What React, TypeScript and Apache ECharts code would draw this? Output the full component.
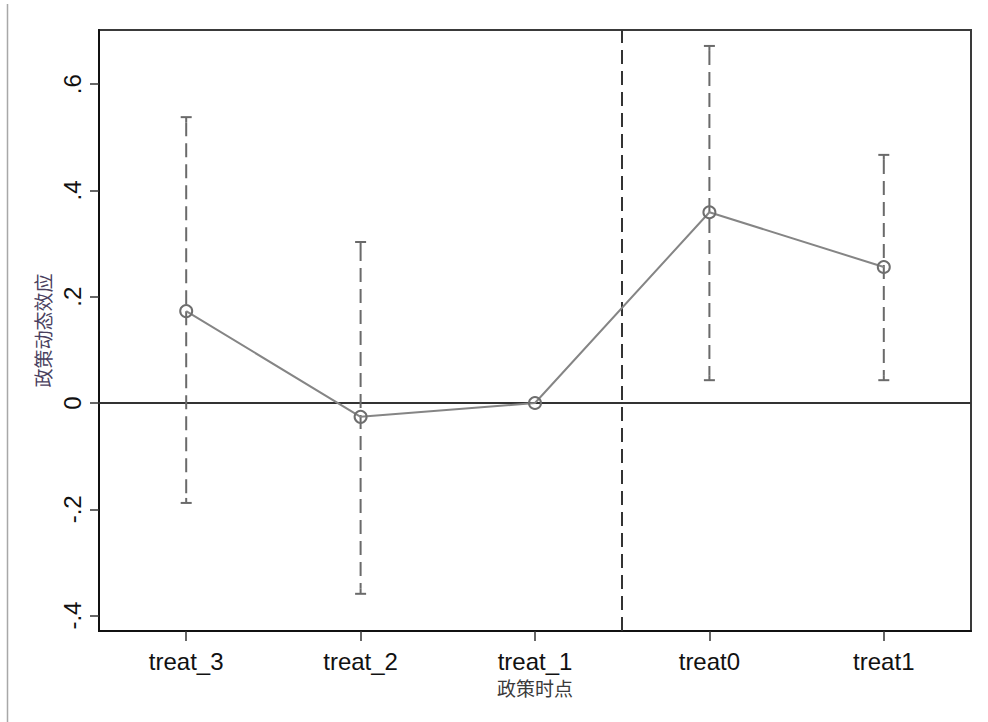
import React, { useEffect, useRef } from "react";
import * as echarts from "echarts";

const categories = ["treat_3", "treat_2", "treat_1", "treat0", "treat1"];
const coef = [0.173, -0.026, 0, 0.359, 0.256];
const lower = [-0.188, -0.359, 0, 0.043, 0.043];
const upper = [0.538, 0.303, 0, 0.672, 0.467];
const yTicks = [-0.4, -0.2, 0, 0.2, 0.4, 0.6];
const xTicks = [0, 1, 2, 3, 4];
const policyLine = 2.5;

const fmtY = (v: number) => {
  if (Math.abs(v) < 1e-9) return "0";
  const s = String(Math.round(v * 10) / 10);
  return s.replace("0.", ".");
};

export default function App() {
  const ref = useRef<HTMLDivElement>(null);
  useEffect(() => {
    document.body.style.margin = "0";
    const chart = echarts.init(ref.current!, undefined, { renderer: "svg" });
    const latin = "'Liberation Sans', Arial, sans-serif";
    const cjk = "'Noto Sans CJK SC', 'Noto Sans', sans-serif";
    const ciData = categories.map((_, i) => [i, lower[i], upper[i]]);
    chart.setOption({
      animation: false,
      backgroundColor: "#ffffff",
      graphic: [
        {
          type: "line",
          shape: { x1: 7.5, y1: 4, x2: 7.5, y2: 722 },
          style: { stroke: "#a8a8a8", lineWidth: 1.5 },
          silent: true,
        },
      ],
      grid: {
        left: 99,
        right: 17,
        top: 30,
        bottom: 91,
        show: true,
        borderColor: "#3a3a3a",
        borderWidth: 2,
        backgroundColor: "#ffffff",
      },
      xAxis: {
        type: "value",
        min: -0.5,
        max: 4.5,
        name: "政策时点",
        nameLocation: "middle",
        nameGap: 46,
        nameTextStyle: { fontFamily: cjk, fontSize: 19, color: "#3a3a3a" },
        splitLine: { show: false },
        axisLine: { show: true, onZero: false, lineStyle: { color: "#111", width: 2 } },
        axisTick: {
          show: true,
          length: 10,
          customValues: xTicks,
          lineStyle: { color: "#333", width: 1.5 },
        },
        axisLabel: {
          customValues: xTicks,
          formatter: (v: number) => categories[Math.round(v)] ?? "",
          fontFamily: latin,
          fontSize: 24,
          color: "#111",
          margin: 18,
        },
      },
      yAxis: {
        type: "value",
        min: -0.429,
        max: 0.702,
        name: "政策动态效应",
        nameLocation: "middle",
        nameGap: 39,
        nameTextStyle: { fontFamily: cjk, fontSize: 19, color: "#4a3f5e" },
        splitLine: { show: false },
        axisLine: { show: true, onZero: false, lineStyle: { color: "#111", width: 2 } },
        axisTick: {
          show: true,
          length: 9,
          customValues: yTicks,
          lineStyle: { color: "#333", width: 1.5 },
        },
        axisLabel: {
          customValues: yTicks,
          formatter: fmtY,
          rotate: 90,
          fontFamily: latin,
          fontSize: 24,
          color: "#111",
          margin: 15,
        },
      },
      series: [
        {
          type: "custom",
          name: "ci",
          data: ciData,
          z: 3,
          renderItem: (params: any, api: any) => {
            const x = api.value(0);
            const lo = api.value(1);
            const hi = api.value(2);
            if (Math.abs(hi - lo) < 1e-9) return { type: "group", children: [] };
            const pLo = api.coord([x, lo]);
            const pHi = api.coord([x, hi]);
            const cap = 5.5;
            const col = "#6a6a6a";
            return {
              type: "group",
              children: [
                {
                  type: "line",
                  shape: { x1: pHi[0], y1: pHi[1] + 5, x2: pLo[0], y2: pLo[1] - 5 },
                  style: { stroke: col, lineWidth: 2, lineDash: [14, 7] },
                },
                {
                  type: "line",
                  shape: { x1: pHi[0] - cap, y1: pHi[1], x2: pHi[0] + cap, y2: pHi[1] },
                  style: { stroke: col, lineWidth: 2 },
                },
                {
                  type: "line",
                  shape: { x1: pHi[0], y1: pHi[1], x2: pHi[0], y2: pHi[1] + 5 },
                  style: { stroke: col, lineWidth: 2 },
                },
                {
                  type: "line",
                  shape: { x1: pLo[0] - cap, y1: pLo[1], x2: pLo[0] + cap, y2: pLo[1] },
                  style: { stroke: col, lineWidth: 2 },
                },
                {
                  type: "line",
                  shape: { x1: pLo[0], y1: pLo[1], x2: pLo[0], y2: pLo[1] - 5 },
                  style: { stroke: col, lineWidth: 2 },
                },
              ],
            };
          },
        },
        {
          type: "line",
          name: "coef",
          data: categories.map((_, i) => [i, coef[i]]),
          z: 4,
          symbol: "circle",
          symbolSize: 12,
          showSymbol: true,
          showAllSymbol: true,
          lineStyle: { color: "#858585", width: 2 },
          itemStyle: { color: "rgba(255,255,255,0)", borderColor: "#6e6e6e", borderWidth: 2 },
          markLine: {
            silent: true,
            symbol: "none",
            label: { show: false },
            z: 2,
            data: [
              { yAxis: 0, lineStyle: { color: "#333", width: 2, type: "solid" } },
              {
                xAxis: policyLine,
                lineStyle: { color: "#333", width: 2, type: [14, 7] },
              },
            ],
          },
        },
      ],
    });
    return () => chart.dispose();
  }, []);
  return <div ref={ref} style={{ width: 988, height: 722 }} />;
}
